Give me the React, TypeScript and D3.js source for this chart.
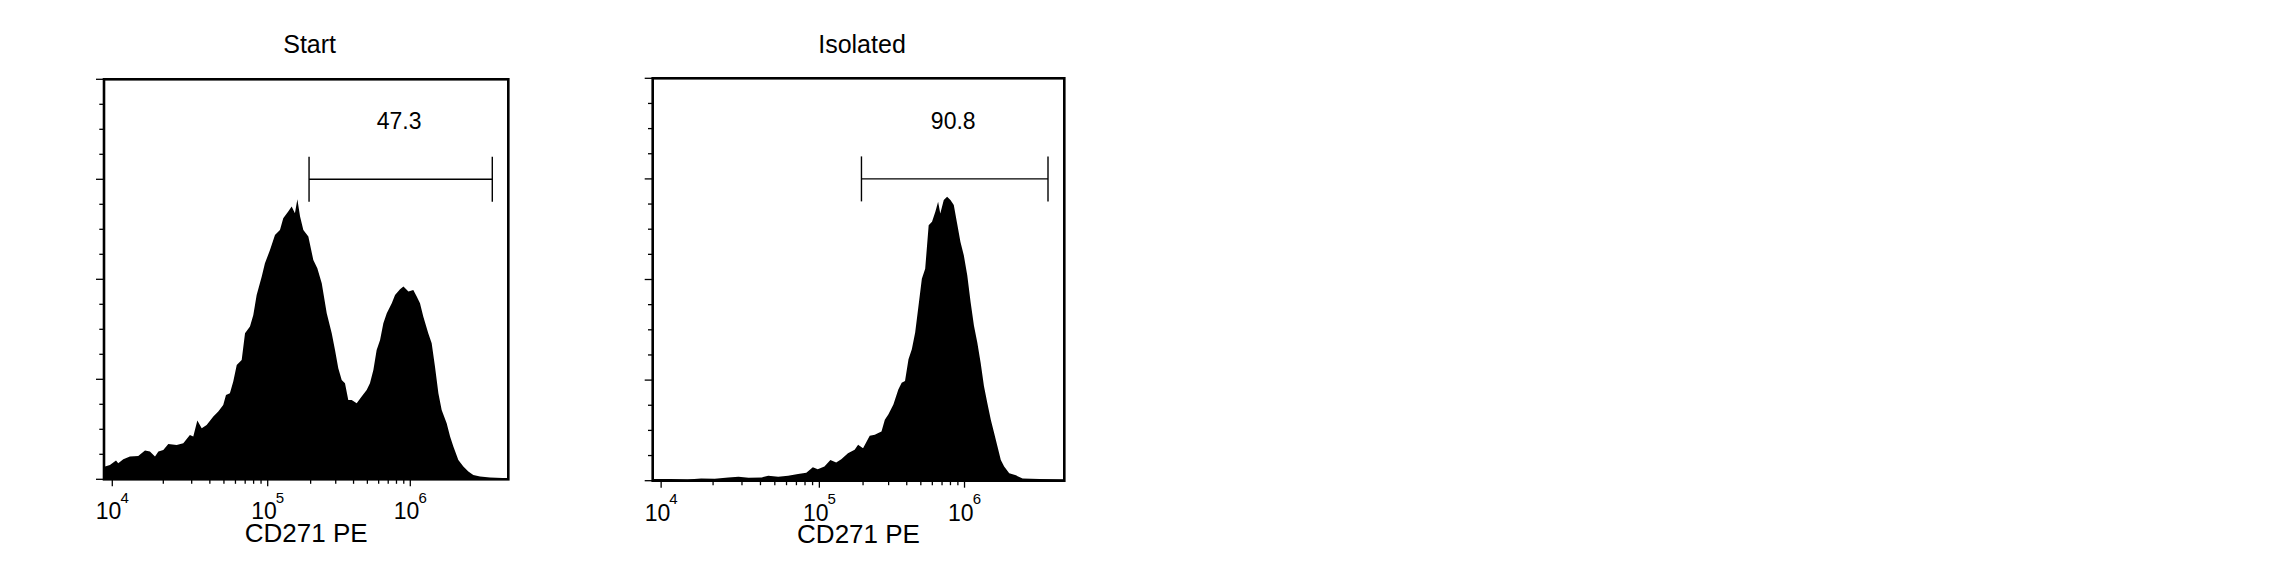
import React, { useEffect, useRef } from 'react';
import * as d3 from 'd3';

const width = 2292;
const height = 584;

// histogram outlines: log10(CD271 PE) and event count
const startLog = [
  3.951, 3.957, 3.986, 4.022, 4.035, 4.065, 4.104, 4.153, 4.193, 4.222, 4.252, 4.272, 4.301, 4.332,
  4.384, 4.425, 4.466, 4.488, 4.516, 4.546, 4.58, 4.626, 4.66, 4.694, 4.713, 4.74, 4.763, 4.787,
  4.821, 4.844, 4.878, 4.901, 4.924, 4.959, 4.981, 5.016, 5.051, 5.086, 5.109, 5.144, 5.168, 5.191,
  5.208, 5.227, 5.25, 5.285, 5.32, 5.348, 5.379, 5.414, 5.449, 5.472, 5.495, 5.519, 5.542, 5.565,
  5.589, 5.624, 5.659, 5.694, 5.717, 5.741, 5.764, 5.788, 5.811, 5.835, 5.87, 5.893, 5.928, 5.952,
  5.987, 6.021, 6.045, 6.068, 6.091, 6.126, 6.15, 6.173, 6.197, 6.22, 6.255, 6.279, 6.302, 6.337,
  6.372, 6.407, 6.442, 6.489, 6.559, 6.69,
];
const startCount = [
  11, 12.7, 14.3, 18.7, 16, 20, 22.7, 23.3, 28.7, 27.7, 22.7, 27.7, 29.3, 35.3,
  34.3, 36, 44.3, 42.7, 58.7, 51, 54.3, 62.7, 67.7, 74.3, 84.3, 86, 97.7, 114.3,
  119.3, 146, 152.7, 164.3, 184.3, 202.7, 216, 229.3, 244.3, 249.3, 261, 267.7, 272.7, 266,
  280, 262.7, 249.3, 242.7, 219.3, 211, 196, 166, 146, 129.3, 111, 99.3, 96, 79.3,
  79.3, 76, 82.7, 89.3, 96, 109.3, 129.3, 139.3, 156, 166, 176, 184.3, 190, 192.7,
  187.7, 189.3, 182.7, 176, 162.7, 146, 136, 112.7, 86, 69.3, 56, 42.7, 32.7, 19.3,
  12.7, 7.7, 4.3, 2.7, 1.7, 1,
];

const isolatedLog = [
  3.951, 3.956, 4.055, 4.153, 4.232, 4.311, 4.394, 4.456, 4.522, 4.611, 4.655, 4.722, 4.789, 4.856,
  4.912, 4.956, 4.989, 5.035, 5.076, 5.116, 5.151, 5.197, 5.243, 5.267, 5.301, 5.347, 5.382, 5.406,
  5.428, 5.451, 5.475, 5.51, 5.544, 5.567, 5.59, 5.614, 5.637, 5.66, 5.683, 5.706, 5.729, 5.753,
  5.776, 5.799, 5.818, 5.833, 5.857, 5.88, 5.903, 5.926, 5.949, 5.972, 5.995, 6.019, 6.042, 6.065,
  6.088, 6.111, 6.134, 6.157, 6.181, 6.204, 6.227, 6.25, 6.273, 6.308, 6.354, 6.4, 6.516, 6.69,
];
const isolatedCount = [
  1.7, 1.7, 1.7, 1.3, 2.3, 2, 3.3, 4, 3, 3.3, 5, 4, 5, 6.7,
  8, 13.3, 11.3, 14, 20.7, 18, 21.3, 27.3, 30.7, 35.7, 32.3, 44.7, 45.7, 47.3,
  49, 60.7, 65.7, 75.7, 90.7, 97.3, 99, 120.7, 130.7, 147.3, 174, 200.7, 210.7, 254,
  257.3, 267.3, 277.3, 265.7, 279, 282.3, 279, 274, 255.7, 237.3, 224, 204, 177.3, 154,
  137.3, 117.3, 94, 77.3, 60.7, 47.3, 34, 20.7, 14, 7.3, 5.3, 2.3, 1.7, 1.3,
];

const panelTitles = ['Start', 'Isolated'];
const gatePercents = ['47.3', '90.8'];
const gateRange = [5.29, 6.575];
const gateLevel = 300;
const decades = [4, 5, 6];
const minorMultipliers = [2, 3, 4, 5, 6, 7, 8, 9];
const axisLabel = 'CD271 PE';
const countMax = 400;
const countStep = 25;

const panels = [
  { left: 104, top: 79.3, right: 508.3, bottom: 479.3 },
  { left: 652.7, top: 78.3, right: 1064.3, bottom: 480.7 },
];

// display transform of the cytometer axis, as fractions of the plot width
const axisKnots = [4, Math.log10(2e4), Math.log10(3e4), 5, 6];
const axisFractions = [0.0205, 0.1467, 0.2169, 0.4049, 0.7576];

const font = "'Liberation Sans', Arial, Helvetica, sans-serif";

const App: React.FC = () => {
  const ref = useRef<SVGSVGElement>(null);

  useEffect(() => {
    if (!ref.current) return;
    const svg = d3.select(ref.current);
    svg.selectAll('*').remove();

    const series = [
      startLog.map((v, i) => ({ v, c: startCount[i] })),
      isolatedLog.map((v, i) => ({ v, c: isolatedCount[i] })),
    ];

    const xTicks: number[] = [];
    decades.forEach(d => {
      xTicks.push(d);
      if (d < 6) minorMultipliers.forEach(m => xTicks.push(d + Math.log10(m)));
    });

    panels.forEach((p, i) => {
      const w = p.right - p.left;
      const x = d3
        .scaleLinear()
        .domain(axisKnots)
        .range(axisFractions.map(f => p.left + f * w));
      const y = d3.scaleLinear().domain([0, countMax]).range([p.bottom, p.top]);

      const g = svg.append('g');

      g.append('clipPath')
        .attr('id', `clip${i}`)
        .append('rect')
        .attr('x', p.left)
        .attr('y', p.top)
        .attr('width', w)
        .attr('height', p.bottom - p.top);

      const area = d3
        .area<{ v: number; c: number }>()
        .x(d => x(d.v))
        .y0(y(0))
        .y1(d => y(d.c))
        .curve(d3.curveLinear);

      g.append('path')
        .datum(series[i])
        .attr('d', area)
        .attr('fill', '#000')
        .attr('clip-path', `url(#clip${i})`);

      // frame
      g.append('rect')
        .attr('x', p.left)
        .attr('y', p.top)
        .attr('width', w)
        .attr('height', p.bottom - p.top)
        .attr('fill', 'none')
        .attr('stroke', '#000')
        .attr('stroke-width', 2.6);

      // y ticks
      const yTicks = d3.range(0, countMax + 1, countStep);
      g.selectAll('.ytick')
        .data(yTicks)
        .enter()
        .append('line')
        .attr('x1', d => p.left - (d % 100 === 0 ? 8 : 4.7))
        .attr('x2', p.left)
        .attr('y1', d => y(d))
        .attr('y2', d => y(d))
        .attr('stroke', '#000')
        .attr('stroke-width', 1.3);

      // x ticks
      g.selectAll('.xtick')
        .data(xTicks)
        .enter()
        .append('line')
        .attr('x1', d => x(d))
        .attr('x2', d => x(d))
        .attr('y1', p.bottom)
        .attr('y2', d => p.bottom + (Number.isInteger(d) ? 7 : 4.5))
        .attr('stroke', '#000')
        .attr('stroke-width', 1.3);

      // decade labels: "10" with the exponent raised
      decades.forEach(d => {
        const t = g
          .append('text')
          .attr('x', x(d))
          .attr('y', p.bottom + 40)
          .attr('text-anchor', 'middle')
          .attr('font-family', font)
          .attr('font-size', 23)
          .attr('fill', '#000');
        t.append('tspan').text('10');
        t.append('tspan').attr('dx', -1).attr('dy', -16.5).attr('font-size', 15).text(String(d));
      });

      g.append('text')
        .attr('x', (p.left + p.right) / 2)
        .attr('y', p.bottom + 62.4)
        .attr('text-anchor', 'middle')
        .attr('font-family', font)
        .attr('font-size', 26)
        .attr('fill', '#000')
        .text(axisLabel);

      g.append('text')
        .attr('x', (p.left + p.right) / 2 + 3.5)
        .attr('y', 52.5)
        .attr('text-anchor', 'middle')
        .attr('font-family', font)
        .attr('font-size', 25)
        .attr('fill', '#000')
        .text(panelTitles[i]);

      // positive gate
      const gx0 = x(gateRange[0]);
      const gx1 = x(gateRange[1]);
      const gy = y(gateLevel);
      g.append('line')
        .attr('x1', gx0)
        .attr('x2', gx1)
        .attr('y1', gy)
        .attr('y2', gy)
        .attr('stroke', '#000')
        .attr('stroke-width', 1.4);
      [gx0, gx1].forEach(gxv => {
        g.append('line')
          .attr('x1', gxv)
          .attr('x2', gxv)
          .attr('y1', gy - 22.5)
          .attr('y2', gy + 22.5)
          .attr('stroke', '#000')
          .attr('stroke-width', 1.4);
      });
      g.append('text')
        .attr('x', (gx0 + gx1) / 2 - 1.5)
        .attr('y', gy - 50)
        .attr('text-anchor', 'middle')
        .attr('font-family', font)
        .attr('font-size', 23)
        .attr('fill', '#000')
        .text(gatePercents[i]);
    });
  }, []);

  return (
    <svg
      ref={ref}
      width={width}
      height={height}
      style={{ position: 'absolute', left: 0, top: 0, background: '#fff' }}
    />
  );
};

export default App;
